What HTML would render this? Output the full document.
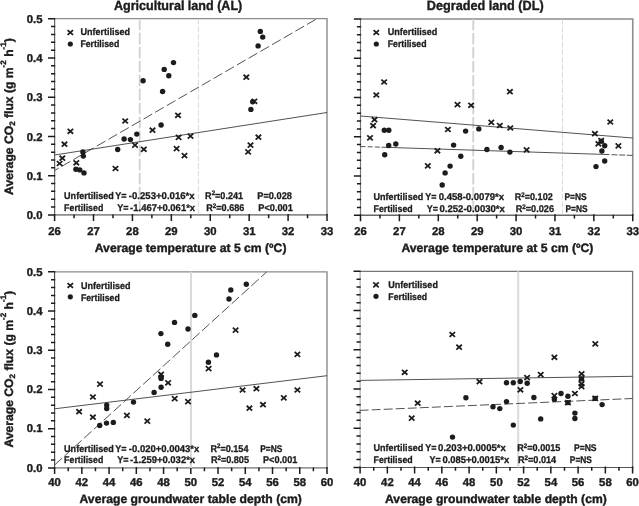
<!DOCTYPE html>
<html lang="en"><head><meta charset="utf-8"><title>Average CO2 flux vs temperature and groundwater table depth</title>
<style>html,body{margin:0;padding:0;background:#fff}svg{display:block;will-change:transform;filter:grayscale(1)}text{white-space:pre;text-rendering:geometricPrecision;stroke:#1c1c1c;stroke-width:.4px;stroke-linejoin:round}text.a{stroke-width:.3px}</style></head>
<body>
<svg width="639" height="506" viewBox="0 0 639 506" font-family="'Liberation Sans', Arial, sans-serif" font-weight="bold" fill="#1c1c1c">
<rect width="639" height="506" fill="#fff"/>
<path d="M54.6 18.65H327.0V214.9" stroke="#8c8c8c" stroke-width="1.4" fill="none"/>
<path d="M54.6 214.9H327.70" stroke="#8c8c8c" stroke-width="1.6" fill="none"/>
<path d="M54.6 18.75V214.9" stroke="#666" stroke-width="1.25" fill="none"/>
<path d="M48.0 18.75H55.2M51.0 26.60H55.2M51.0 34.44H55.2M51.0 42.29H55.2M51.0 50.13H55.2M48.0 57.98H55.2M51.0 65.83H55.2M51.0 73.67H55.2M51.0 81.52H55.2M51.0 89.36H55.2M48.0 97.21H55.2M51.0 105.06H55.2M51.0 112.90H55.2M51.0 120.75H55.2M51.0 128.59H55.2M48.0 136.44H55.2M51.0 144.29H55.2M51.0 152.13H55.2M51.0 159.98H55.2M51.0 167.82H55.2M48.0 175.67H55.2M51.0 183.52H55.2M51.0 191.36H55.2M51.0 199.21H55.2M51.0 207.05H55.2M48.0 214.90H55.2M54.60 214.0V220.9M74.06 214.4V218.2M93.51 214.0V220.9M112.97 214.4V218.2M132.43 214.0V220.9M151.89 214.4V218.2M171.34 214.0V220.9M190.80 214.4V218.2M210.26 214.0V220.9M229.71 214.4V218.2M249.17 214.0V220.9M268.63 214.4V218.2M288.09 214.0V220.9M307.54 214.4V218.2M327.00 214.0V220.9" stroke="#1c1c1c" stroke-width="1.5" fill="none"/>
<text x="54.6" y="235.4" font-size="11.3" text-anchor="middle">26</text>
<text x="93.5" y="235.4" font-size="11.3" text-anchor="middle">27</text>
<text x="132.4" y="235.4" font-size="11.3" text-anchor="middle">28</text>
<text x="171.3" y="235.4" font-size="11.3" text-anchor="middle">29</text>
<text x="210.3" y="235.4" font-size="11.3" text-anchor="middle">30</text>
<text x="249.2" y="235.4" font-size="11.3" text-anchor="middle">31</text>
<text x="288.1" y="235.4" font-size="11.3" text-anchor="middle">32</text>
<text x="327.0" y="235.4" font-size="11.3" text-anchor="middle">33</text>
<text x="42.5" y="22.9" font-size="11.3" text-anchor="end">0.5</text>
<text x="42.5" y="62.1" font-size="11.3" text-anchor="end">0.4</text>
<text x="42.5" y="101.3" font-size="11.3" text-anchor="end">0.3</text>
<text x="42.5" y="140.5" font-size="11.3" text-anchor="end">0.2</text>
<text x="42.5" y="179.8" font-size="11.3" text-anchor="end">0.1</text>
<text x="42.5" y="219.0" font-size="11.3" text-anchor="end">0.0</text>
<path d="M360.5 19.00H632.75V215.25" stroke="#8c8c8c" stroke-width="1.6" fill="none"/>
<path d="M360.5 215.25H633.45" stroke="#666" stroke-width="1.5" fill="none"/>
<path d="M360.5 19.0V215.25" stroke="#777" stroke-width="1.2" fill="none"/>
<path d="M353.9 19.00H361.1M356.9 26.85H361.1M356.9 34.70H361.1M356.9 42.55H361.1M356.9 50.40H361.1M353.9 58.25H361.1M356.9 66.10H361.1M356.9 73.95H361.1M356.9 81.80H361.1M356.9 89.65H361.1M353.9 97.50H361.1M356.9 105.35H361.1M356.9 113.20H361.1M356.9 121.05H361.1M356.9 128.90H361.1M353.9 136.75H361.1M356.9 144.60H361.1M356.9 152.45H361.1M356.9 160.30H361.1M356.9 168.15H361.1M353.9 176.00H361.1M356.9 183.85H361.1M356.9 191.70H361.1M356.9 199.55H361.1M356.9 207.40H361.1M353.9 215.25H361.1M360.50 214.3V221.2M379.95 214.8V218.6M399.39 214.3V221.2M418.84 214.8V218.6M438.29 214.3V221.2M457.73 214.8V218.6M477.18 214.3V221.2M496.62 214.8V218.6M516.07 214.3V221.2M535.52 214.8V218.6M554.96 214.3V221.2M574.41 214.8V218.6M593.86 214.3V221.2M613.30 214.8V218.6M632.75 214.3V221.2" stroke="#1c1c1c" stroke-width="1.5" fill="none"/>
<text x="360.5" y="235.4" font-size="11.3" text-anchor="middle">26</text>
<text x="399.4" y="235.4" font-size="11.3" text-anchor="middle">27</text>
<text x="438.3" y="235.4" font-size="11.3" text-anchor="middle">28</text>
<text x="477.2" y="235.4" font-size="11.3" text-anchor="middle">29</text>
<text x="516.1" y="235.4" font-size="11.3" text-anchor="middle">30</text>
<text x="555.0" y="235.4" font-size="11.3" text-anchor="middle">31</text>
<text x="593.9" y="235.4" font-size="11.3" text-anchor="middle">32</text>
<text x="632.8" y="235.4" font-size="11.3" text-anchor="middle">33</text>
<path d="M54.6 271.85H327.0V467.9" stroke="#8c8c8c" stroke-width="1.4" fill="none"/>
<path d="M54.6 467.9H327.70" stroke="#999" stroke-width="1.8" fill="none"/>
<path d="M54.6 271.85V467.9" stroke="#444" stroke-width="1.1" fill="none"/>
<path d="M48.0 271.85H55.2M51.0 279.69H55.2M51.0 287.53H55.2M51.0 295.38H55.2M51.0 303.22H55.2M48.0 311.06H55.2M51.0 318.90H55.2M51.0 326.74H55.2M51.0 334.59H55.2M51.0 342.43H55.2M48.0 350.27H55.2M51.0 358.11H55.2M51.0 365.95H55.2M51.0 373.80H55.2M51.0 381.64H55.2M48.0 389.48H55.2M51.0 397.32H55.2M51.0 405.16H55.2M51.0 413.01H55.2M51.0 420.85H55.2M48.0 428.69H55.2M51.0 436.53H55.2M51.0 444.37H55.2M51.0 452.22H55.2M51.0 460.06H55.2M48.0 467.90H55.2M54.60 467.0V473.9M68.22 467.4V471.2M81.84 467.0V473.9M95.46 467.4V471.2M109.08 467.0V473.9M122.70 467.4V471.2M136.32 467.0V473.9M149.94 467.4V471.2M163.56 467.0V473.9M177.18 467.4V471.2M190.80 467.0V473.9M204.42 467.4V471.2M218.04 467.0V473.9M231.66 467.4V471.2M245.28 467.0V473.9M258.90 467.4V471.2M272.52 467.0V473.9M286.14 467.4V471.2M299.76 467.0V473.9M313.38 467.4V471.2M327.00 467.0V473.9" stroke="#1c1c1c" stroke-width="1.5" fill="none"/>
<text x="54.6" y="486.4" font-size="11.3" text-anchor="middle">40</text>
<text x="81.8" y="486.4" font-size="11.3" text-anchor="middle">42</text>
<text x="109.1" y="486.4" font-size="11.3" text-anchor="middle">44</text>
<text x="136.3" y="486.4" font-size="11.3" text-anchor="middle">46</text>
<text x="163.6" y="486.4" font-size="11.3" text-anchor="middle">48</text>
<text x="190.8" y="486.4" font-size="11.3" text-anchor="middle">50</text>
<text x="218.0" y="486.4" font-size="11.3" text-anchor="middle">52</text>
<text x="245.3" y="486.4" font-size="11.3" text-anchor="middle">54</text>
<text x="272.5" y="486.4" font-size="11.3" text-anchor="middle">56</text>
<text x="299.8" y="486.4" font-size="11.3" text-anchor="middle">58</text>
<text x="327.0" y="486.4" font-size="11.3" text-anchor="middle">60</text>
<text x="42.5" y="275.6" font-size="11.3" text-anchor="end">0.5</text>
<text x="42.5" y="314.8" font-size="11.3" text-anchor="end">0.4</text>
<text x="42.5" y="354.0" font-size="11.3" text-anchor="end">0.3</text>
<text x="42.5" y="393.2" font-size="11.3" text-anchor="end">0.2</text>
<text x="42.5" y="432.4" font-size="11.3" text-anchor="end">0.1</text>
<text x="42.5" y="471.6" font-size="11.3" text-anchor="end">0.0</text>
<path d="M360.1 271.30H632.6V467.45" stroke="#777" stroke-width="1.3" fill="none"/>
<path d="M360.1 467.45H633.30" stroke="#555" stroke-width="1.1" fill="none"/>
<path d="M360.1 271.3V467.45" stroke="#999" stroke-width="1.0" fill="none"/>
<path d="M353.5 271.30H360.7M356.5 279.15H360.7M356.5 286.99H360.7M356.5 294.84H360.7M356.5 302.68H360.7M353.5 310.53H360.7M356.5 318.38H360.7M356.5 326.22H360.7M356.5 334.07H360.7M356.5 341.91H360.7M353.5 349.76H360.7M356.5 357.61H360.7M356.5 365.45H360.7M356.5 373.30H360.7M356.5 381.14H360.7M353.5 388.99H360.7M356.5 396.84H360.7M356.5 404.68H360.7M356.5 412.53H360.7M356.5 420.37H360.7M353.5 428.22H360.7M356.5 436.07H360.7M356.5 443.91H360.7M356.5 451.76H360.7M356.5 459.60H360.7M353.5 467.45H360.7M360.10 466.6V473.4M373.73 466.9V470.8M387.35 466.6V473.4M400.98 466.9V470.8M414.60 466.6V473.4M428.23 466.9V470.8M441.85 466.6V473.4M455.48 466.9V470.8M469.10 466.6V473.4M482.73 466.9V470.8M496.35 466.6V473.4M509.98 466.9V470.8M523.60 466.6V473.4M537.23 466.9V470.8M550.85 466.6V473.4M564.48 466.9V470.8M578.10 466.6V473.4M591.73 466.9V470.8M605.35 466.6V473.4M618.98 466.9V470.8M632.60 466.6V473.4" stroke="#1c1c1c" stroke-width="1.5" fill="none"/>
<text x="360.1" y="486.4" font-size="11.3" text-anchor="middle">40</text>
<text x="387.4" y="486.4" font-size="11.3" text-anchor="middle">42</text>
<text x="414.6" y="486.4" font-size="11.3" text-anchor="middle">44</text>
<text x="441.9" y="486.4" font-size="11.3" text-anchor="middle">46</text>
<text x="469.1" y="486.4" font-size="11.3" text-anchor="middle">48</text>
<text x="496.4" y="486.4" font-size="11.3" text-anchor="middle">50</text>
<text x="523.6" y="486.4" font-size="11.3" text-anchor="middle">52</text>
<text x="550.9" y="486.4" font-size="11.3" text-anchor="middle">54</text>
<text x="578.1" y="486.4" font-size="11.3" text-anchor="middle">56</text>
<text x="605.4" y="486.4" font-size="11.3" text-anchor="middle">58</text>
<text x="632.6" y="486.4" font-size="11.3" text-anchor="middle">60</text>
<path d="M139.7 18.75V214.9" stroke="#d0d0d8" stroke-width="1.8" stroke-dasharray="11.4 2.6" fill="none"/>
<path d="M198.4 18.75V214.9" stroke="#cfcfcf" stroke-width="0.8" stroke-dasharray="5.6 2.0" fill="none"/>
<path d="M473.3 19.0V215.25" stroke="#d0d0d8" stroke-width="1.8" stroke-dasharray="11.4 2.6" fill="none"/>
<path d="M562.5 19.0V215.25" stroke="#cfcfcf" stroke-width="0.8" stroke-dasharray="5.6 2.0" fill="none"/>
<path d="M191.0 271.85V467.9" stroke="#dadadc" stroke-width="2.0" fill="none"/>
<path d="M518.2 271.3V467.45" stroke="#dadadc" stroke-width="2.0" fill="none"/>
<path d="M54.6 155.0L327.0 112.5" stroke="#333" stroke-width="0.85" fill="none"/>
<path d="M54.6 170.5L316.8 18.8" stroke="#333" stroke-width="0.85" stroke-dasharray="10 3.5" stroke-dashoffset="5.3" fill="none"/>
<path d="M360.5 116.0L632.6 138.0" stroke="#333" stroke-width="0.85" fill="none"/>
<path d="M360.5 146.5L381.5 147.2" stroke="#333" stroke-width="0.85" stroke-dasharray="5 2.2" fill="none"/>
<path d="M381.5 147.2L609.5 154.6" stroke="#333" stroke-width="0.85" fill="none"/>
<path d="M611.5 154.7L632.6 155.4" stroke="#333" stroke-width="0.85" stroke-dasharray="6 1.6" fill="none"/>
<path d="M54.6 408.8L327.0 375.7" stroke="#333" stroke-width="0.85" fill="none"/>
<path d="M54.6 465.0L266.7 271.9" stroke="#333" stroke-width="0.85" stroke-dasharray="10 3.3" fill="none"/>
<path d="M360.5 380.4L632.6 376.3" stroke="#333" stroke-width="0.85" fill="none"/>
<path d="M359.6 410.4L632.6 398.5" stroke="#333" stroke-width="0.85" stroke-dasharray="9 3.05" fill="none"/>
<g><circle cx="143.1" cy="80.8" r="2.7" fill="#1c1c1c"/><circle cx="164.2" cy="69.4" r="2.7" fill="#1c1c1c"/><circle cx="173.5" cy="62.6" r="2.7" fill="#1c1c1c"/><circle cx="168.8" cy="75.8" r="2.7" fill="#1c1c1c"/><circle cx="162.6" cy="91.5" r="2.7" fill="#1c1c1c"/><circle cx="161.1" cy="125.0" r="2.7" fill="#1c1c1c"/><circle cx="260.3" cy="31.4" r="2.7" fill="#1c1c1c"/><circle cx="262.7" cy="37.1" r="2.7" fill="#1c1c1c"/><circle cx="258.1" cy="45.9" r="2.7" fill="#1c1c1c"/><circle cx="252.7" cy="101.8" r="2.7" fill="#1c1c1c"/><circle cx="250.9" cy="109.4" r="2.7" fill="#1c1c1c"/><circle cx="82.9" cy="151.9" r="2.7" fill="#1c1c1c"/><circle cx="83.3" cy="156.1" r="2.7" fill="#1c1c1c"/><circle cx="75.9" cy="169.2" r="2.7" fill="#1c1c1c"/><circle cx="79.8" cy="169.9" r="2.7" fill="#1c1c1c"/><circle cx="84.0" cy="172.9" r="2.7" fill="#1c1c1c"/><circle cx="117.7" cy="149.5" r="2.7" fill="#1c1c1c"/><circle cx="124.1" cy="139.0" r="2.7" fill="#1c1c1c"/><circle cx="130.4" cy="139.6" r="2.7" fill="#1c1c1c"/><circle cx="136.8" cy="134.1" r="2.7" fill="#1c1c1c"/></g>
<g><path d="M67.65 128.85L73.15 133.75M67.65 133.75L73.15 128.85" stroke="#1c1c1c" stroke-width="1.75" fill="none"/><path d="M61.75 141.75L67.25 146.65M61.75 146.65L67.25 141.75" stroke="#1c1c1c" stroke-width="1.75" fill="none"/><path d="M59.55 155.75L65.05 160.65M59.55 160.65L65.05 155.75" stroke="#1c1c1c" stroke-width="1.75" fill="none"/><path d="M56.85 161.05L62.35 165.95M56.85 165.95L62.35 161.05" stroke="#1c1c1c" stroke-width="1.75" fill="none"/><path d="M73.55 160.35L79.05 165.25M73.55 165.25L79.05 160.35" stroke="#1c1c1c" stroke-width="1.75" fill="none"/><path d="M112.75 166.05L118.25 170.95M112.75 170.95L118.25 166.05" stroke="#1c1c1c" stroke-width="1.75" fill="none"/><path d="M122.45 118.55L127.95 123.45M122.45 123.45L127.95 118.55" stroke="#1c1c1c" stroke-width="1.75" fill="none"/><path d="M132.25 142.65L137.75 147.55M132.25 147.55L137.75 142.65" stroke="#1c1c1c" stroke-width="1.75" fill="none"/><path d="M141.05 146.85L146.55 151.75M141.05 151.75L146.55 146.85" stroke="#1c1c1c" stroke-width="1.75" fill="none"/><path d="M149.75 127.75L155.25 132.65M149.75 132.65L155.25 127.75" stroke="#1c1c1c" stroke-width="1.75" fill="none"/><path d="M175.25 112.85L180.75 117.75M175.25 117.75L180.75 112.85" stroke="#1c1c1c" stroke-width="1.75" fill="none"/><path d="M175.85 134.95L181.35 139.85M175.85 139.85L181.35 134.95" stroke="#1c1c1c" stroke-width="1.75" fill="none"/><path d="M173.85 146.15L179.35 151.05M173.85 151.05L179.35 146.15" stroke="#1c1c1c" stroke-width="1.75" fill="none"/><path d="M181.75 153.15L187.25 158.05M181.75 158.05L187.25 153.15" stroke="#1c1c1c" stroke-width="1.75" fill="none"/><path d="M187.75 133.65L193.25 138.55M187.75 138.55L193.25 133.65" stroke="#1c1c1c" stroke-width="1.75" fill="none"/><path d="M243.55 74.75L249.05 79.65M243.55 79.65L249.05 74.75" stroke="#1c1c1c" stroke-width="1.75" fill="none"/><path d="M251.65 98.85L257.15 103.75M251.65 103.75L257.15 98.85" stroke="#1c1c1c" stroke-width="1.75" fill="none"/><path d="M255.65 134.75L261.15 139.65M255.65 139.65L261.15 134.75" stroke="#1c1c1c" stroke-width="1.75" fill="none"/><path d="M247.75 142.65L253.25 147.55M247.75 147.55L253.25 142.65" stroke="#1c1c1c" stroke-width="1.75" fill="none"/><path d="M245.35 149.45L250.85 154.35M245.35 154.35L250.85 149.45" stroke="#1c1c1c" stroke-width="1.75" fill="none"/></g>
<g><circle cx="384.3" cy="130.3" r="2.7" fill="#1c1c1c"/><circle cx="388.8" cy="130.3" r="2.7" fill="#1c1c1c"/><circle cx="388.7" cy="145.5" r="2.7" fill="#1c1c1c"/><circle cx="395.8" cy="144.0" r="2.7" fill="#1c1c1c"/><circle cx="384.7" cy="154.8" r="2.7" fill="#1c1c1c"/><circle cx="465.6" cy="131.1" r="2.7" fill="#1c1c1c"/><circle cx="478.8" cy="128.9" r="2.7" fill="#1c1c1c"/><circle cx="453.6" cy="145.1" r="2.7" fill="#1c1c1c"/><circle cx="460.8" cy="156.3" r="2.7" fill="#1c1c1c"/><circle cx="486.9" cy="149.5" r="2.7" fill="#1c1c1c"/><circle cx="450.1" cy="166.1" r="2.7" fill="#1c1c1c"/><circle cx="445.1" cy="172.9" r="2.7" fill="#1c1c1c"/><circle cx="442.2" cy="185.0" r="2.7" fill="#1c1c1c"/><circle cx="501.1" cy="147.5" r="2.7" fill="#1c1c1c"/><circle cx="509.9" cy="152.1" r="2.7" fill="#1c1c1c"/><circle cx="604.7" cy="145.7" r="2.7" fill="#1c1c1c"/><circle cx="601.9" cy="151.0" r="2.7" fill="#1c1c1c"/><circle cx="604.7" cy="161.0" r="2.7" fill="#1c1c1c"/><circle cx="596.0" cy="166.6" r="2.7" fill="#1c1c1c"/><circle cx="601.3" cy="141.2" r="2.7" fill="#1c1c1c"/></g>
<g><path d="M381.35 79.55L386.85 84.45M381.35 84.45L386.85 79.55" stroke="#1c1c1c" stroke-width="1.75" fill="none"/><path d="M373.55 92.55L379.05 97.45M373.55 97.45L379.05 92.55" stroke="#1c1c1c" stroke-width="1.75" fill="none"/><path d="M454.75 102.15L460.25 107.05M454.75 107.05L460.25 102.15" stroke="#1c1c1c" stroke-width="1.75" fill="none"/><path d="M468.35 102.85L473.85 107.75M468.35 107.75L473.85 102.85" stroke="#1c1c1c" stroke-width="1.75" fill="none"/><path d="M371.75 117.25L377.25 122.15M371.75 122.15L377.25 117.25" stroke="#1c1c1c" stroke-width="1.75" fill="none"/><path d="M370.35 123.25L375.85 128.15M370.35 128.15L375.85 123.25" stroke="#1c1c1c" stroke-width="1.75" fill="none"/><path d="M367.25 135.45L372.75 140.35M367.25 140.35L372.75 135.45" stroke="#1c1c1c" stroke-width="1.75" fill="none"/><path d="M445.15 127.05L450.65 131.95M445.15 131.95L450.65 127.05" stroke="#1c1c1c" stroke-width="1.75" fill="none"/><path d="M434.65 148.35L440.15 153.25M434.65 153.25L440.15 148.35" stroke="#1c1c1c" stroke-width="1.75" fill="none"/><path d="M425.05 163.45L430.55 168.35M425.05 168.35L430.55 163.45" stroke="#1c1c1c" stroke-width="1.75" fill="none"/><path d="M488.55 119.95L494.05 124.85M488.55 124.85L494.05 119.95" stroke="#1c1c1c" stroke-width="1.75" fill="none"/><path d="M507.15 89.25L512.65 94.15M507.15 94.15L512.65 89.25" stroke="#1c1c1c" stroke-width="1.75" fill="none"/><path d="M497.05 123.05L502.55 127.95M497.05 127.95L502.55 123.05" stroke="#1c1c1c" stroke-width="1.75" fill="none"/><path d="M507.55 125.55L513.05 130.45M507.55 130.45L513.05 125.55" stroke="#1c1c1c" stroke-width="1.75" fill="none"/><path d="M523.85 147.45L529.35 152.35M523.85 152.35L529.35 147.45" stroke="#1c1c1c" stroke-width="1.75" fill="none"/><path d="M607.55 119.55L613.05 124.45M607.55 124.45L613.05 119.55" stroke="#1c1c1c" stroke-width="1.75" fill="none"/><path d="M592.15 131.25L597.65 136.15M592.15 136.15L597.65 131.25" stroke="#1c1c1c" stroke-width="1.75" fill="none"/><path d="M598.45 138.15L603.95 143.05M598.45 143.05L603.95 138.15" stroke="#1c1c1c" stroke-width="1.75" fill="none"/><path d="M595.65 141.35L601.15 146.25M595.65 146.25L601.15 141.35" stroke="#1c1c1c" stroke-width="1.75" fill="none"/><path d="M615.65 143.45L621.15 148.35M615.65 148.35L621.15 143.45" stroke="#1c1c1c" stroke-width="1.75" fill="none"/></g>
<g><circle cx="160.9" cy="333.6" r="2.7" fill="#1c1c1c"/><circle cx="174.5" cy="322.4" r="2.7" fill="#1c1c1c"/><circle cx="188.0" cy="329.0" r="2.7" fill="#1c1c1c"/><circle cx="167.7" cy="344.3" r="2.7" fill="#1c1c1c"/><circle cx="246.3" cy="284.3" r="2.7" fill="#1c1c1c"/><circle cx="230.8" cy="290.0" r="2.7" fill="#1c1c1c"/><circle cx="229.0" cy="299.0" r="2.7" fill="#1c1c1c"/><circle cx="194.8" cy="315.4" r="2.7" fill="#1c1c1c"/><circle cx="216.5" cy="354.9" r="2.7" fill="#1c1c1c"/><circle cx="208.4" cy="362.3" r="2.7" fill="#1c1c1c"/><circle cx="106.7" cy="405.1" r="2.7" fill="#1c1c1c"/><circle cx="106.7" cy="408.6" r="2.7" fill="#1c1c1c"/><circle cx="99.7" cy="425.5" r="2.7" fill="#1c1c1c"/><circle cx="106.5" cy="423.1" r="2.7" fill="#1c1c1c"/><circle cx="113.3" cy="422.4" r="2.7" fill="#1c1c1c"/><circle cx="133.5" cy="402.1" r="2.7" fill="#1c1c1c"/><circle cx="154.1" cy="392.4" r="2.7" fill="#1c1c1c"/><circle cx="161.1" cy="387.2" r="2.7" fill="#1c1c1c"/><circle cx="161.1" cy="378.4" r="2.7" fill="#1c1c1c"/><circle cx="161.1" cy="377.0" r="2.7" fill="#1c1c1c"/></g>
<g><path d="M97.25 381.65L102.75 386.55M97.25 386.55L102.75 381.65" stroke="#1c1c1c" stroke-width="1.75" fill="none"/><path d="M90.15 394.55L95.65 399.45M90.15 399.45L95.65 394.55" stroke="#1c1c1c" stroke-width="1.75" fill="none"/><path d="M76.35 409.25L81.85 414.15M76.35 414.15L81.85 409.25" stroke="#1c1c1c" stroke-width="1.75" fill="none"/><path d="M90.15 414.75L95.65 419.65M90.15 419.65L95.65 414.75" stroke="#1c1c1c" stroke-width="1.75" fill="none"/><path d="M124.15 412.95L129.65 417.85M124.15 417.85L129.65 412.95" stroke="#1c1c1c" stroke-width="1.75" fill="none"/><path d="M144.55 418.65L150.05 423.55M144.55 423.55L150.05 418.65" stroke="#1c1c1c" stroke-width="1.75" fill="none"/><path d="M158.35 371.85L163.85 376.75M158.35 376.75L163.85 371.85" stroke="#1c1c1c" stroke-width="1.75" fill="none"/><path d="M165.35 380.35L170.85 385.25M165.35 385.25L170.85 380.35" stroke="#1c1c1c" stroke-width="1.75" fill="none"/><path d="M171.95 396.15L177.45 401.05M171.95 401.05L177.45 396.15" stroke="#1c1c1c" stroke-width="1.75" fill="none"/><path d="M185.25 399.15L190.75 404.05M185.25 404.05L190.75 399.15" stroke="#1c1c1c" stroke-width="1.75" fill="none"/><path d="M232.85 327.65L238.35 332.55M232.85 332.55L238.35 327.65" stroke="#1c1c1c" stroke-width="1.75" fill="none"/><path d="M294.65 351.95L300.15 356.85M294.65 356.85L300.15 351.95" stroke="#1c1c1c" stroke-width="1.75" fill="none"/><path d="M205.85 366.15L211.35 371.05M205.85 371.05L211.35 366.15" stroke="#1c1c1c" stroke-width="1.75" fill="none"/><path d="M239.85 387.55L245.35 392.45M239.85 392.45L245.35 387.55" stroke="#1c1c1c" stroke-width="1.75" fill="none"/><path d="M253.65 386.25L259.15 391.15M253.65 391.15L259.15 386.25" stroke="#1c1c1c" stroke-width="1.75" fill="none"/><path d="M246.65 405.75L252.15 410.65M246.65 410.65L252.15 405.75" stroke="#1c1c1c" stroke-width="1.75" fill="none"/><path d="M260.25 402.25L265.75 407.15M260.25 407.15L265.75 402.25" stroke="#1c1c1c" stroke-width="1.75" fill="none"/><path d="M281.05 395.45L286.55 400.35M281.05 400.35L286.55 395.45" stroke="#1c1c1c" stroke-width="1.75" fill="none"/><path d="M294.65 387.55L300.15 392.45M294.65 392.45L300.15 387.55" stroke="#1c1c1c" stroke-width="1.75" fill="none"/></g>
<g><circle cx="465.9" cy="397.7" r="2.7" fill="#1c1c1c"/><circle cx="493.0" cy="406.7" r="2.7" fill="#1c1c1c"/><circle cx="452.5" cy="437.1" r="2.7" fill="#1c1c1c"/><circle cx="506.5" cy="382.7" r="2.7" fill="#1c1c1c"/><circle cx="513.3" cy="382.7" r="2.7" fill="#1c1c1c"/><circle cx="520.2" cy="381.5" r="2.7" fill="#1c1c1c"/><circle cx="527.2" cy="383.2" r="2.7" fill="#1c1c1c"/><circle cx="506.5" cy="401.6" r="2.7" fill="#1c1c1c"/><circle cx="499.8" cy="408.6" r="2.7" fill="#1c1c1c"/><circle cx="513.3" cy="425.1" r="2.7" fill="#1c1c1c"/><circle cx="533.9" cy="397.5" r="2.7" fill="#1c1c1c"/><circle cx="540.7" cy="418.9" r="2.7" fill="#1c1c1c"/><circle cx="554.4" cy="399.4" r="2.7" fill="#1c1c1c"/><circle cx="561.0" cy="393.5" r="2.7" fill="#1c1c1c"/><circle cx="567.9" cy="396.2" r="2.7" fill="#1c1c1c"/><circle cx="567.9" cy="402.6" r="2.7" fill="#1c1c1c"/><circle cx="574.9" cy="413.1" r="2.7" fill="#1c1c1c"/><circle cx="574.9" cy="418.5" r="2.7" fill="#1c1c1c"/><circle cx="581.5" cy="378.9" r="2.7" fill="#1c1c1c"/><circle cx="595.2" cy="398.4" r="2.7" fill="#1c1c1c"/><circle cx="602.1" cy="404.6" r="2.7" fill="#1c1c1c"/></g>
<g><path d="M449.55 332.05L455.05 336.95M449.55 336.95L455.05 332.05" stroke="#1c1c1c" stroke-width="1.75" fill="none"/><path d="M456.35 344.75L461.85 349.65M456.35 349.65L461.85 344.75" stroke="#1c1c1c" stroke-width="1.75" fill="none"/><path d="M401.95 369.85L407.45 374.75M401.95 374.75L407.45 369.85" stroke="#1c1c1c" stroke-width="1.75" fill="none"/><path d="M592.55 341.45L598.05 346.35M592.55 346.35L598.05 341.45" stroke="#1c1c1c" stroke-width="1.75" fill="none"/><path d="M551.65 354.85L557.15 359.75M551.65 359.75L557.15 354.85" stroke="#1c1c1c" stroke-width="1.75" fill="none"/><path d="M537.95 372.15L543.45 377.05M537.95 377.05L543.45 372.15" stroke="#1c1c1c" stroke-width="1.75" fill="none"/><path d="M524.35 375.15L529.85 380.05M524.35 380.05L529.85 375.15" stroke="#1c1c1c" stroke-width="1.75" fill="none"/><path d="M578.85 371.35L584.35 376.25M578.85 376.25L584.35 371.35" stroke="#1c1c1c" stroke-width="1.75" fill="none"/><path d="M476.75 379.25L482.25 384.15M476.75 384.15L482.25 379.25" stroke="#1c1c1c" stroke-width="1.75" fill="none"/><path d="M414.95 400.75L420.45 405.65M414.95 405.65L420.45 400.75" stroke="#1c1c1c" stroke-width="1.75" fill="none"/><path d="M408.95 415.65L414.45 420.55M408.95 420.55L414.45 415.65" stroke="#1c1c1c" stroke-width="1.75" fill="none"/><path d="M517.65 387.35L523.15 392.25M517.65 392.25L523.15 387.35" stroke="#1c1c1c" stroke-width="1.75" fill="none"/><path d="M551.65 393.15L557.15 398.05M551.65 398.05L557.15 393.15" stroke="#1c1c1c" stroke-width="1.75" fill="none"/><path d="M565.15 400.15L570.65 405.05M565.15 405.05L570.65 400.15" stroke="#1c1c1c" stroke-width="1.75" fill="none"/><path d="M572.15 391.05L577.65 395.95M572.15 395.95L577.65 391.05" stroke="#1c1c1c" stroke-width="1.75" fill="none"/><path d="M578.75 376.45L584.25 381.35M578.75 381.35L584.25 376.45" stroke="#1c1c1c" stroke-width="1.75" fill="none"/><path d="M578.75 381.35L584.25 386.25M578.75 386.25L584.25 381.35" stroke="#1c1c1c" stroke-width="1.75" fill="none"/><path d="M578.75 384.15L584.25 389.05M578.75 389.05L584.25 384.15" stroke="#1c1c1c" stroke-width="1.75" fill="none"/><path d="M592.45 395.95L597.95 400.85M592.45 400.85L597.95 395.95" stroke="#1c1c1c" stroke-width="1.75" fill="none"/></g>
<path d="M67.55 30.05L73.05 34.95M67.55 34.95L73.05 30.05" stroke="#1c1c1c" stroke-width="1.75" fill="none"/>
<circle cx="70.3" cy="44.0" r="2.6" fill="#1c1c1c"/>
<text x="80.4" y="35.3" font-size="9.7" text-anchor="start" textLength="49.6" lengthAdjust="spacingAndGlyphs" class="a">Unfertilised</text>
<text x="80.4" y="47.2" font-size="9.7" text-anchor="start" textLength="38.9" lengthAdjust="spacingAndGlyphs" class="a">Fertilised</text>
<path d="M373.55 30.05L379.05 34.95M373.55 34.95L379.05 30.05" stroke="#1c1c1c" stroke-width="1.75" fill="none"/>
<circle cx="376.3" cy="44.0" r="2.6" fill="#1c1c1c"/>
<text x="387.7" y="35.3" font-size="9.7" text-anchor="start" textLength="49.6" lengthAdjust="spacingAndGlyphs" class="a">Unfertilised</text>
<text x="387.7" y="47.2" font-size="9.7" text-anchor="start" textLength="38.9" lengthAdjust="spacingAndGlyphs" class="a">Fertilised</text>
<path d="M67.55 283.05L73.05 287.95M67.55 287.95L73.05 283.05" stroke="#1c1c1c" stroke-width="1.75" fill="none"/>
<circle cx="70.3" cy="296.8" r="2.6" fill="#1c1c1c"/>
<text x="80.9" y="288.5" font-size="9.7" text-anchor="start" textLength="49.6" lengthAdjust="spacingAndGlyphs" class="a">Unfertilised</text>
<text x="80.9" y="300.5" font-size="9.7" text-anchor="start" textLength="38.9" lengthAdjust="spacingAndGlyphs" class="a">Fertilised</text>
<path d="M373.25 282.45L378.75 287.35M373.25 287.35L378.75 282.45" stroke="#1c1c1c" stroke-width="1.75" fill="none"/>
<circle cx="376.0" cy="296.3" r="2.6" fill="#1c1c1c"/>
<text x="388.3" y="287.7" font-size="9.7" text-anchor="start" textLength="49.6" lengthAdjust="spacingAndGlyphs" class="a">Unfertilised</text>
<text x="388.3" y="299.6" font-size="9.7" text-anchor="start" textLength="38.9" lengthAdjust="spacingAndGlyphs" class="a">Fertilised</text>
<text x="64.1" y="198.7" font-size="9.7" text-anchor="start" textLength="49.7" lengthAdjust="spacingAndGlyphs" class="a">Unfertilised</text>
<text x="115.3" y="198.7" font-size="9.7" text-anchor="start" textLength="11.3" lengthAdjust="spacingAndGlyphs" class="a">Y=</text>
<text x="128.8" y="198.7" font-size="9.7" text-anchor="start" textLength="65.8" lengthAdjust="spacingAndGlyphs" class="a">-0.253+0.016*x</text>
<text x="205.1" y="198.7" font-size="9.7" text-anchor="start" textLength="37.9" lengthAdjust="spacingAndGlyphs" class="a">R<tspan font-size="6.6" dy="-3.4">2</tspan><tspan dy="3.4">=0.241</tspan></text>
<text x="257.3" y="198.7" font-size="9.7" text-anchor="start" textLength="34.6" lengthAdjust="spacingAndGlyphs" class="a">P=0.028</text>
<text x="64.1" y="210.9" font-size="9.7" text-anchor="start" textLength="39.2" lengthAdjust="spacingAndGlyphs" class="a">Fertilised</text>
<text x="117.2" y="210.9" font-size="9.7" text-anchor="start" textLength="11.3" lengthAdjust="spacingAndGlyphs" class="a">Y=</text>
<text x="130.1" y="210.9" font-size="9.7" text-anchor="start" textLength="65.0" lengthAdjust="spacingAndGlyphs" class="a">-1.467+0.061*x</text>
<text x="206.3" y="210.9" font-size="9.7" text-anchor="start" textLength="38.0" lengthAdjust="spacingAndGlyphs" class="a">R<tspan font-size="6.6" dy="-3.4">2</tspan><tspan dy="3.4">=0.686</tspan></text>
<text x="258.3" y="210.9" font-size="9.7" text-anchor="start" textLength="34.5" lengthAdjust="spacingAndGlyphs" class="a">P&lt;0.001</text>
<text x="373.5" y="200.0" font-size="9.7" text-anchor="start" textLength="49.7" lengthAdjust="spacingAndGlyphs" class="a">Unfertilised</text>
<text x="425.3" y="200.0" font-size="9.7" text-anchor="start" textLength="11.2" lengthAdjust="spacingAndGlyphs" class="a">Y=</text>
<text x="438.8" y="200.0" font-size="9.7" text-anchor="start" textLength="65.2" lengthAdjust="spacingAndGlyphs" class="a">0.458-0.0079*x</text>
<text x="514.8" y="200.0" font-size="9.7" text-anchor="start" textLength="37.9" lengthAdjust="spacingAndGlyphs" class="a">R<tspan font-size="6.6" dy="-3.4">2</tspan><tspan dy="3.4">=0.102</tspan></text>
<text x="564.5" y="200.0" font-size="9.7" text-anchor="start" textLength="22.2" lengthAdjust="spacingAndGlyphs" class="a">P=NS</text>
<text x="373.5" y="211.9" font-size="9.7" text-anchor="start" textLength="39.2" lengthAdjust="spacingAndGlyphs" class="a">Fertilised</text>
<text x="426.8" y="211.9" font-size="9.7" text-anchor="start" textLength="11.2" lengthAdjust="spacingAndGlyphs" class="a">Y=</text>
<text x="439.5" y="211.9" font-size="9.7" text-anchor="start" textLength="65.4" lengthAdjust="spacingAndGlyphs" class="a">0.252-0.0030*x</text>
<text x="515.7" y="211.9" font-size="9.7" text-anchor="start" textLength="38.3" lengthAdjust="spacingAndGlyphs" class="a">R<tspan font-size="6.6" dy="-3.4">2</tspan><tspan dy="3.4">=0.026</tspan></text>
<text x="565.5" y="211.9" font-size="9.7" text-anchor="start" textLength="22.1" lengthAdjust="spacingAndGlyphs" class="a">P=NS</text>
<text x="64.1" y="451.8" font-size="9.7" text-anchor="start" textLength="49.7" lengthAdjust="spacingAndGlyphs" class="a">Unfertilised</text>
<text x="115.3" y="451.8" font-size="9.7" text-anchor="start" textLength="11.3" lengthAdjust="spacingAndGlyphs" class="a">Y=</text>
<text x="128.8" y="451.8" font-size="9.7" text-anchor="start" textLength="70.5" lengthAdjust="spacingAndGlyphs" class="a">-0.020+0.0043*x</text>
<text x="210.4" y="451.8" font-size="9.7" text-anchor="start" textLength="38.1" lengthAdjust="spacingAndGlyphs" class="a">R<tspan font-size="6.6" dy="-3.4">2</tspan><tspan dy="3.4">=0.154</tspan></text>
<text x="260.2" y="451.8" font-size="9.7" text-anchor="start" textLength="22.2" lengthAdjust="spacingAndGlyphs" class="a">P=NS</text>
<text x="64.1" y="463.4" font-size="9.7" text-anchor="start" textLength="39.2" lengthAdjust="spacingAndGlyphs" class="a">Fertilised</text>
<text x="117.2" y="463.4" font-size="9.7" text-anchor="start" textLength="11.3" lengthAdjust="spacingAndGlyphs" class="a">Y=</text>
<text x="130.1" y="463.4" font-size="9.7" text-anchor="start" textLength="65.0" lengthAdjust="spacingAndGlyphs" class="a">-1.259+0.032*x</text>
<text x="210.9" y="463.4" font-size="9.7" text-anchor="start" textLength="38.1" lengthAdjust="spacingAndGlyphs" class="a">R<tspan font-size="6.6" dy="-3.4">2</tspan><tspan dy="3.4">=0.805</tspan></text>
<text x="263.0" y="463.4" font-size="9.7" text-anchor="start" textLength="34.4" lengthAdjust="spacingAndGlyphs" class="a">P&lt;0.001</text>
<text x="373.5" y="451.4" font-size="9.7" text-anchor="start" textLength="49.7" lengthAdjust="spacingAndGlyphs" class="a">Unfertilised</text>
<text x="425.3" y="451.4" font-size="9.7" text-anchor="start" textLength="11.2" lengthAdjust="spacingAndGlyphs" class="a">Y=</text>
<text x="438.1" y="451.4" font-size="9.7" text-anchor="start" textLength="67.7" lengthAdjust="spacingAndGlyphs" class="a">0.203+0.0005*x</text>
<text x="517.2" y="451.4" font-size="9.7" text-anchor="start" textLength="43.2" lengthAdjust="spacingAndGlyphs" class="a">R<tspan font-size="6.6" dy="-3.4">2</tspan><tspan dy="3.4">=0.0015</tspan></text>
<text x="573.9" y="451.4" font-size="9.7" text-anchor="start" textLength="22.7" lengthAdjust="spacingAndGlyphs" class="a">P=NS</text>
<text x="373.5" y="463.0" font-size="9.7" text-anchor="start" textLength="39.2" lengthAdjust="spacingAndGlyphs" class="a">Fertilised</text>
<text x="429.6" y="463.0" font-size="9.7" text-anchor="start" textLength="11.2" lengthAdjust="spacingAndGlyphs" class="a">Y=</text>
<text x="442.5" y="463.0" font-size="9.7" text-anchor="start" textLength="66.7" lengthAdjust="spacingAndGlyphs" class="a">0.085+0.0015*x</text>
<text x="517.9" y="463.0" font-size="9.7" text-anchor="start" textLength="38.3" lengthAdjust="spacingAndGlyphs" class="a">R<tspan font-size="6.6" dy="-3.4">2</tspan><tspan dy="3.4">=0.014</tspan></text>
<text x="569.8" y="463.0" font-size="9.7" text-anchor="start" textLength="22.1" lengthAdjust="spacingAndGlyphs" class="a">P=NS</text>
<text x="178.1" y="10.1" font-size="13.3" text-anchor="middle" textLength="128.4" lengthAdjust="spacingAndGlyphs">Agricultural land (AL)</text>
<text x="485.2" y="10.1" font-size="13.3" text-anchor="middle" textLength="116.9" lengthAdjust="spacingAndGlyphs">Degraded land (DL)</text>
<text x="190.6" y="252.2" font-size="12.15" text-anchor="middle" textLength="191.7" lengthAdjust="spacingAndGlyphs">Average temperature at 5 cm (ºC)</text>
<text x="497.4" y="252.2" font-size="12.15" text-anchor="middle" textLength="192.0" lengthAdjust="spacingAndGlyphs">Average temperature at 5 cm (ºC)</text>
<text x="190.7" y="503.1" font-size="12.15" text-anchor="middle" textLength="222.4" lengthAdjust="spacingAndGlyphs">Average groundwater table depth (cm)</text>
<text x="495.9" y="503.1" font-size="12.15" text-anchor="middle" textLength="221.7" lengthAdjust="spacingAndGlyphs">Average groundwater table depth (cm)</text>
<text transform="translate(12.8 116.6) rotate(-90)" font-size="12.15" text-anchor="middle" textLength="156.7" lengthAdjust="spacingAndGlyphs">Average CO<tspan font-size="8" dy="2.5">2</tspan><tspan dy="-2.5"> flux (g m</tspan><tspan font-size="8" dy="-6.8">-2</tspan><tspan dy="6.8"> h</tspan><tspan font-size="8" dy="-6.8">-1</tspan><tspan dy="6.8">)</tspan></text>
<text transform="translate(12.8 369.2) rotate(-90)" font-size="12.15" text-anchor="middle" textLength="156.7" lengthAdjust="spacingAndGlyphs">Average CO<tspan font-size="8" dy="2.5">2</tspan><tspan dy="-2.5"> flux (g m</tspan><tspan font-size="8" dy="-6.8">-2</tspan><tspan dy="6.8"> h</tspan><tspan font-size="8" dy="-6.8">-1</tspan><tspan dy="6.8">)</tspan></text>
</svg>
</body></html>
